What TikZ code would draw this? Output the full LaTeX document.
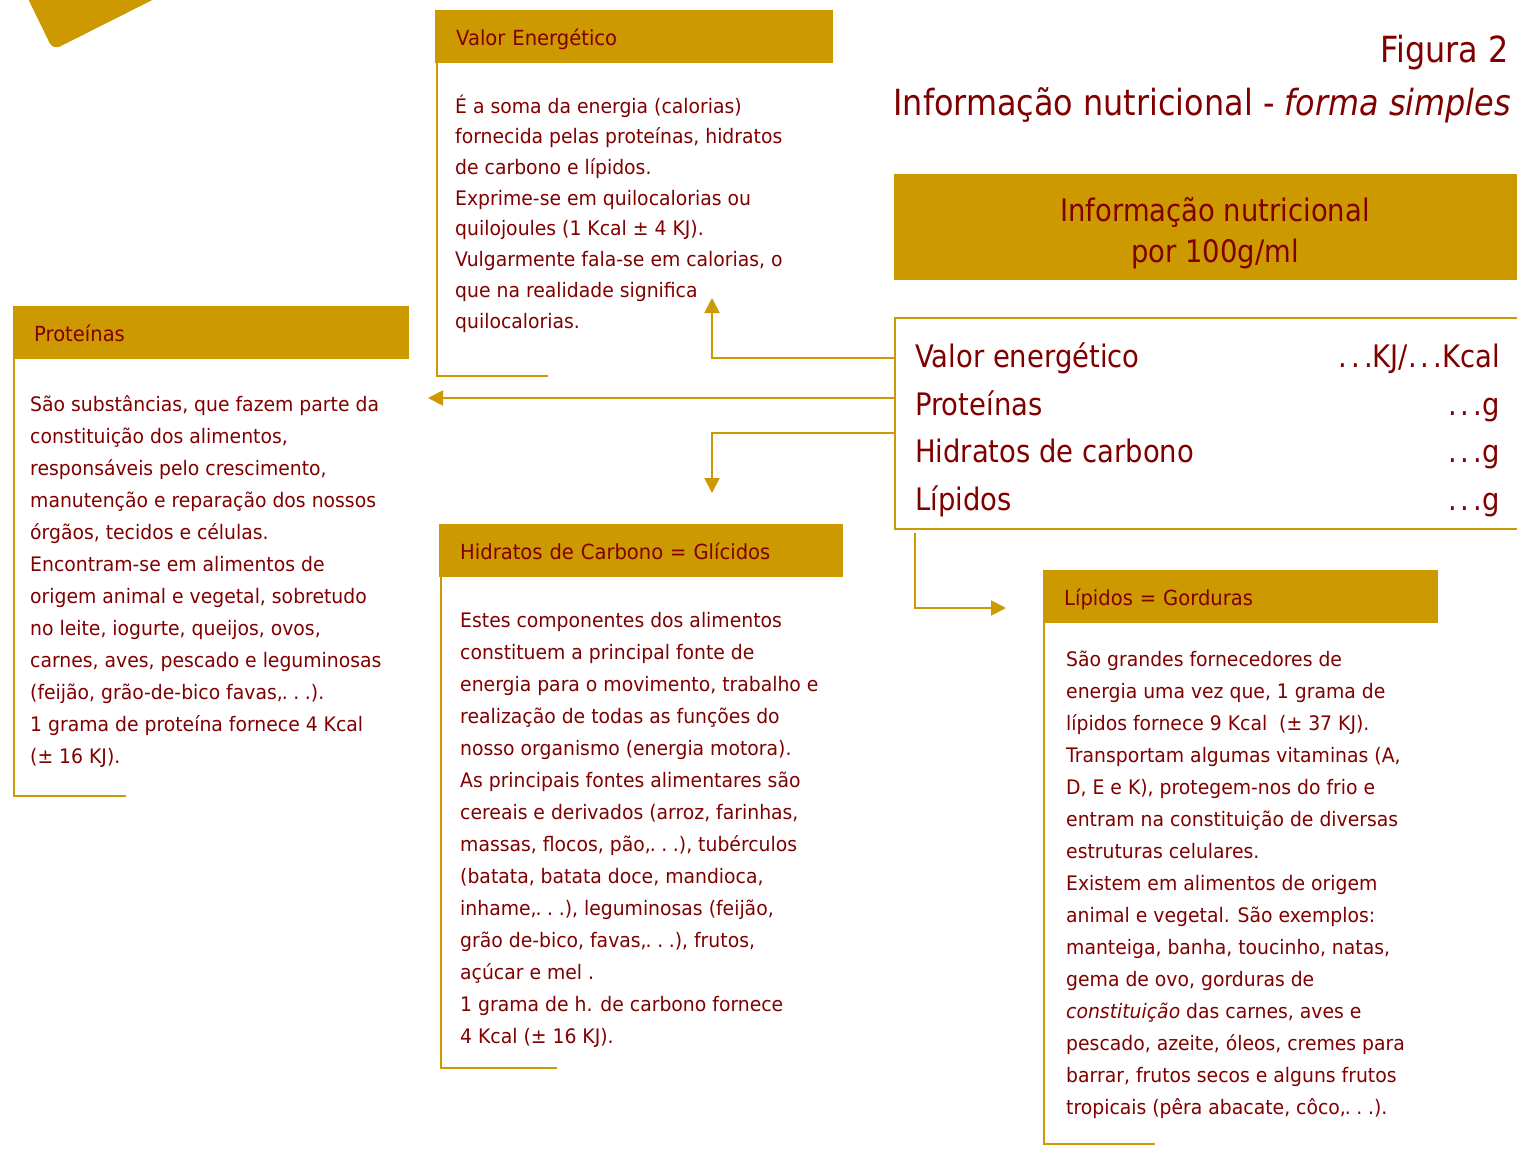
\documentclass[tikz,border=0pt]{standalone}
\usepackage{fontspec}
\setmainfont{DejaVu Sans}[FakeStretch=0.94]
\newfontfamily\condf{DejaVu Sans}[FakeStretch=0.885]
\usetikzlibrary{arrows.meta}
\definecolor{gold}{HTML}{CC9900}
\definecolor{tred}{HTML}{800000}
\newcommand\elp{\kern-.05em.\kern.28em.\kern.28em.}
\newcommand\elt{.\kern.13em.\kern.13em.}
\tikzset{
  hdr/.style={fill=gold, anchor=north west, inner xsep=21pt, inner ysep=0pt,
    text height=18pt, text depth=0pt, text=tred,
    font=\fontsize{20.8}{24}\selectfont, align=left, minimum height=53pt},
  body/.style={anchor=north west, inner sep=0pt, text=tred, align=left,
    font=\fontsize{20}{32}\selectfont},
  bodyv/.style={body, font=\fontsize{20}{30.7}\selectfont},
  frameline/.style={draw=gold, line width=2pt},
  arr/.style={draw=gold, line width=2pt, -{Triangle[length=15pt,width=15pt]}},
  tabtxt/.style={inner sep=0pt, text=tred, font=\condf\fontsize{31}{36}\selectfont},
  ttl/.style={inner sep=0pt, text=tred, anchor=base east, font=\condf\fontsize{36}{40}\selectfont},
}
\begin{document}
\begin{tikzpicture}[x=1pt,y=-1pt]
\clip (0,0) rectangle (1517,1156);
\fill[white] (0,0) rectangle (1517,1156);

% corner decoration
\fill[gold, rounded corners=8pt] (17,-24) -- (53,50) -- (200,-24) -- cycle;

% ---------- Valor Energetico ----------
\node[hdr, text width=356pt] (hv) at (435,10) {Valor Energético};
\coordinate (ev) at (548,376);
\draw[frameline] ([xshift=2pt]hv.south west) |- (ev);
\node[bodyv] (bv) at (455,91.5) {\strut É a soma da energia (calorias)\\
fornecida pelas proteínas, hidratos\\
de carbono e lípidos.\\
Exprime-se em quilocalorias ou\\
quilojoules (1 Kcal ± 4 KJ).\\
Vulgarmente fala-se em calorias, o\\
que na realidade significa\\
quilocalorias.};

% ---------- Proteinas ----------
\node[hdr, text width=354pt] (hp) at (13,306) {Proteínas};
\coordinate (ep) at (126,796);
\draw[frameline] ([xshift=1pt]hp.south west) |- (ep);
\node[body] (bp) at (30,388.6) {\strut São substâncias, que fazem parte da\\
constituição dos alimentos,\\
responsáveis pelo crescimento,\\
manutenção e reparação dos nossos\\
órgãos, tecidos e células.\\
Encontram-se em alimentos de\\
origem animal e vegetal, sobretudo\\
no leite, iogurte, queijos, ovos,\\
carnes, aves, pescado e leguminosas\\
(feijão, grão-de-bico favas,\elp).\\
1 grama de proteína fornece 4 Kcal\\
(± 16 KJ).};

% ---------- Hidratos ----------
\node[hdr, text width=362pt] (hh) at (439,524) {Hidratos de Carbono = Glícidos};
\coordinate (eh) at (557,1068);
\draw[frameline] ([xshift=2pt]hh.south west) |- (eh);
\node[body] (bh) at (460,604.6) {\strut Estes componentes dos alimentos\\
constituem a principal fonte de\\
energia para o movimento, trabalho e\\
realização de todas as funções do\\
nosso organismo (energia motora).\\
As principais fontes alimentares são\\
cereais e derivados (arroz, farinhas,\\
massas, flocos, pão,\elp), tubérculos\\
(batata, batata doce, mandioca,\\
inhame,\elp), leguminosas (feijão,\\
grão de-bico, favas,\elp), frutos,\\
açúcar e mel .\\
1 grama de h. de carbono fornece\\
4 Kcal (± 16 KJ).};

% ---------- Lipidos ----------
\node[hdr, text width=353pt] (hl) at (1043,570) {Lípidos = Gorduras};
\coordinate (el) at (1155,1144);
\draw[frameline] ([xshift=1pt]hl.south west) |- (el);
\node[body] (bl) at (1066,643.6) {\strut São grandes fornecedores de\\
energia uma vez que, 1 grama de\\
lípidos fornece 9 Kcal \ (± 37 KJ).\\
Transportam algumas vitaminas (A,\\
D, E e K), protegem-nos do frio e\\
entram na constituição de diversas\\
estruturas celulares.\\
Existem em alimentos de origem\\
animal e vegetal. São exemplos:\\
manteiga, banha, toucinho, natas,\\
gema de ovo, gorduras de\\
\textit{constituição} das carnes, aves e\\
pescado, azeite, óleos, cremes para\\
barrar, frutos secos e alguns frutos\\
tropicais (pêra abacate, côco,\elp).};

% ---------- Titles ----------
\node[ttl] (fig) at (1509,63) {Figura 2};
\node[ttl] (sub) at (1511,115) {Informação nutricional - \textit{forma simples}};

% ---------- Info header ----------
\node[fill=gold, anchor=north west, minimum width=642pt, minimum height=106pt, inner sep=0pt] (ih) at (894,174) {};
\node[tabtxt, anchor=base] (ih1) at (1215,221) {Informação nutricional};
\node[tabtxt, anchor=base] (ih2) at (1215,262) {por 100g/ml};

% ---------- Table ----------
\node[draw=gold, line width=2pt, anchor=north west, minimum width=660pt, minimum height=211pt, inner sep=0pt] (tbl) at (894,317) {};
\node[tabtxt, anchor=base west] (r1) at (915,367) {Valor energético};
\node[tabtxt, anchor=base west] (r2) at (915,415) {Proteínas};
\node[tabtxt, anchor=base west] (r3) at (915,462) {Hidratos de carbono};
\node[tabtxt, anchor=base west] (r4) at (915,510) {Lípidos};
\node[tabtxt, anchor=base east] (v1) at (1500,367) {\elt KJ/\elt Kcal};
\node[tabtxt, anchor=base east] (v2) at (1500,415) {\elt g};
\node[tabtxt, anchor=base east] (v3) at (1500,462) {\elt g};
\node[tabtxt, anchor=base east] (v4) at (1500,510) {\elt g};

% ---------- Connectors ----------
\coordinate (s1) at (tbl.west |- 0,358);
\coordinate (s2) at (tbl.west |- 0,398);
\coordinate (s3) at (tbl.west |- 0,433);
\coordinate (s4) at (915,533);
\coordinate (a1) at (712,298);
\coordinate (a2) at (428,398);
\coordinate (a3) at (712,493);
\coordinate (a4) at (1006,608);
\draw[arr] (s1) -| (a1);
\draw[arr] (s2) -- (a2);
\draw[arr] (s3) -| (a3);
\draw[arr] (s4) |- (a4);
\end{tikzpicture}
\end{document}
